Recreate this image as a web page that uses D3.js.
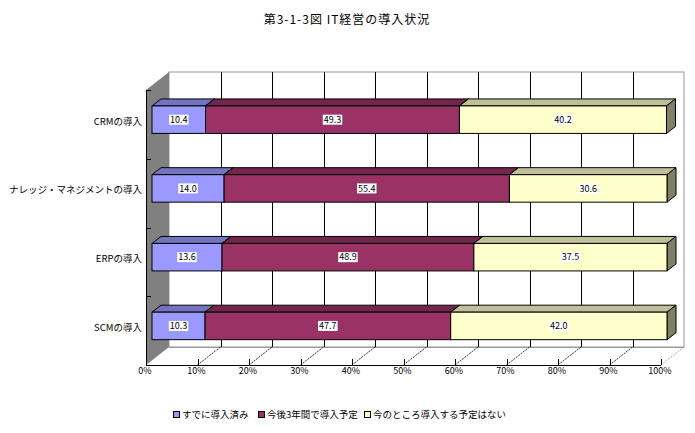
<!DOCTYPE html>
<html>
<head>
<meta charset="utf-8">
<script src="https://cdn.jsdelivr.net/npm/d3@7"></script>
<style>
body { margin: 0; background: #fff; }
text { font-family: "Noto Sans CJK JP", "Noto Sans", sans-serif; fill: #000; }
</style>
</head>
<body>
<svg></svg>
<script>
// data
var categories = ["CRMの導入", "ナレッジ・マネジメントの導入", "ERPの導入", "SCMの導入"];
var seriesNames = ["すでに導入済み", "今後3年間で導入予定", "今のところ導入する予定はない"];
var already = [10.4, 14.0, 13.6, 10.3];
var planned = [49.3, 55.4, 48.9, 47.7];
var noPlan = [40.2, 30.6, 37.5, 42.0];
var xTicks = [0, 10, 20, 30, 40, 50, 60, 70, 80, 90, 100];

var colors = ["#9999FF", "#993366", "#FFFFCC"];
var topColors = ["#7373BF", "#73264D", "#BFBF99"];
var sideColors = ["#4D4D80", "#4D1A33", "#808066"];

var svgWidth = 695, svgHeight = 433;

var svg = d3.select('svg')
	.attr("width", svgWidth)
	.attr("height", svgHeight);

// 3d geometry
var depthX = 23, depthY = -18;
var plotTop = 90, plotBottom = 365;

var xFront = d3.scaleLinear().domain([0, 100]).range([146, 661]);
var xBack = d3.scaleLinear().domain([0, 100]).range([146 + depthX, 661 + depthX]);
var xBar = d3.scaleLinear().domain([0, 100]).range([152, 667]);
var barShiftY = -4.7, barDX = 9, barDY = -7;

var yScale = d3.scaleBand()
	.domain(categories)
	.range([plotTop, plotBottom])
	.paddingInner(0.6)
	.paddingOuter(0.3);

// title
svg.append("text")
	.attr("x", 347)
	.attr("y", 24)
	.attr("text-anchor", "middle")
	.style("font-size", "12px")
	.style("letter-spacing", "1px")
	.text("第3-1-3図  IT経営の導入状況");

// back wall
svg.append("rect")
	.attr("x", xBack(0))
	.attr("y", plotTop + depthY)
	.attr("width", xBack(100) - xBack(0))
	.attr("height", plotBottom - plotTop)
	.attr("fill", "#fff")
	.attr("stroke", "#999")
	.attr("stroke-width", 1);

svg.selectAll(".grid")
	.data(xTicks.filter(function(d) { return d > 0 && d < 100; }))
	.enter()
	.append("line")
	.attr("x1", function(d) { return Math.round(xBack(d)) + 0.5; })
	.attr("x2", function(d) { return Math.round(xBack(d)) + 0.5; })
	.attr("y1", plotTop + depthY)
	.attr("y2", plotBottom + depthY)
	.attr("stroke", "#000");

// left wall
svg.append("polygon")
	.attr("points", [[xFront(0), plotTop], [xBack(0), plotTop + depthY], [xBack(0), plotBottom + depthY], [xFront(0), plotBottom]].join(" "))
	.attr("fill", "#808080");

// floor
svg.append("line")
	.attr("x1", xBack(0)).attr("x2", xBack(100))
	.attr("y1", plotBottom + depthY + 0.5).attr("y2", plotBottom + depthY + 0.5)
	.attr("stroke", "#999");

svg.selectAll(".floorgrid")
	.data(xTicks.filter(function(d) { return d > 0; }))
	.enter()
	.append("line")
	.attr("x1", function(d) { return xFront(d); })
	.attr("x2", function(d) { return xBack(d); })
	.attr("y1", plotBottom)
	.attr("y2", plotBottom + depthY)
	.attr("stroke", function(d) { return d == 100 ? "#999" : "#000"; })
	.attr("stroke-width", 0.8)
	.attr("stroke-dasharray", "2,1");

svg.selectAll(".xtick")
	.data(xTicks.filter(function(d) { return d > 0; }))
	.enter()
	.append("line")
	.attr("x1", function(d) { return Math.round(xFront(d)) + 0.5; })
	.attr("x2", function(d) { return Math.round(xFront(d)) + 0.5; })
	.attr("y1", plotBottom - 6)
	.attr("y2", plotBottom)
	.attr("stroke", "#000");

svg.append("line")
	.attr("x1", xFront(0)).attr("x2", xFront(100))
	.attr("y1", plotBottom + 0.5).attr("y2", plotBottom + 0.5)
	.attr("stroke", "#000");

// category axis
svg.append("line")
	.attr("x1", xFront(0) + 0.5).attr("x2", xFront(0) + 0.5)
	.attr("y1", plotTop).attr("y2", plotBottom)
	.attr("stroke", "#000");

var bandEdges = categories.map(function(c) { return yScale(c) - yScale.step() * yScale.paddingOuter(); });
bandEdges.push(plotBottom);
svg.selectAll(".ytick")
	.data(bandEdges)
	.enter()
	.append("line")
	.attr("x1", xFront(0))
	.attr("x2", xFront(0) + 5)
	.attr("y1", function(d) { return Math.round(d) + 0.5; })
	.attr("y2", function(d) { return Math.round(d) + 0.5; })
	.attr("stroke", "#000");

svg.selectAll(".ylabel")
	.data(categories)
	.enter()
	.append("text")
	.attr("x", 142)
	.attr("y", function(d) { return yScale(d) + yScale.bandwidth() / 2 - 3; })
	.attr("dy", "0.35em")
	.attr("text-anchor", "end")
	.style("font-size", "9.5px")
	.text(function(d) { return d; });

svg.selectAll(".xlabel")
	.data(xTicks)
	.enter()
	.append("text")
	.attr("x", function(d) { return xFront(d) - 1; })
	.attr("y", 374)
	.attr("text-anchor", "middle")
	.style("font-size", "9px")
	.text(function(d) { return d + "%"; });

// bars
var seriesValues = [already, planned, noPlan];
var h = yScale.bandwidth();

categories.forEach(function(cat, ci) {
	var y = yScale(cat) + barShiftY;
	var start = 0;
	seriesValues.forEach(function(vals, si) {
		var v = vals[ci];
		var x0 = xBar(start), x1 = xBar(start + v);
		var g = svg.append("g");
		g.append("polygon")
			.attr("points", [[x0, y], [x0 + barDX, y + barDY], [x1 + barDX, y + barDY], [x1, y]].join(" "))
			.attr("fill", topColors[si])
			.attr("stroke", "#000");
		g.append("polygon")
			.attr("points", [[x1, y], [x1 + barDX, y + barDY], [x1 + barDX, y + h + barDY], [x1, y + h]].join(" "))
			.attr("fill", sideColors[si])
			.attr("stroke", "#000");
		g.append("rect")
			.attr("x", x0)
			.attr("y", y)
			.attr("width", x1 - x0)
			.attr("height", h)
			.attr("fill", colors[si])
			.attr("stroke", "#000");
		start += v;
	});
});

// data labels
categories.forEach(function(cat, ci) {
	var y = yScale(cat) + barShiftY + h / 2;
	var start = 0;
	seriesValues.forEach(function(vals, si) {
		var v = vals[ci];
		var cx = xBar(start + v / 2);
		var t = svg.append("text")
			.attr("x", cx)
			.attr("y", y)
			.attr("dy", "0.35em")
			.attr("text-anchor", "middle")
			.style("font-size", "9px")
			.text(v.toFixed(1));
		var bb = t.node().getBBox();
		svg.insert("rect", function() { return t.node(); })
			.attr("x", bb.x - 1)
			.attr("y", y - 5)
			.attr("width", bb.width + 2)
			.attr("height", 10)
			.attr("fill", "#fff");
		start += v;
	});
});

// legend
var legendX = [173, 258, 364];
var legend = svg.selectAll(".legend")
	.data(seriesNames)
	.enter()
	.append("g")
	.attr("transform", function(d, i) { return "translate(" + legendX[i] + ",415)"; });

legend.append("rect")
	.attr("x", 0.5)
	.attr("y", -3.5)
	.attr("width", 6)
	.attr("height", 6)
	.attr("fill", function(d, i) { return colors[i]; })
	.attr("stroke", "#000");

legend.append("text")
	.attr("x", 9)
	.attr("y", 0)
	.attr("dy", "0.35em")
	.style("font-size", "9.5px")
	.text(function(d) { return d; });
</script>
</body>
</html>
